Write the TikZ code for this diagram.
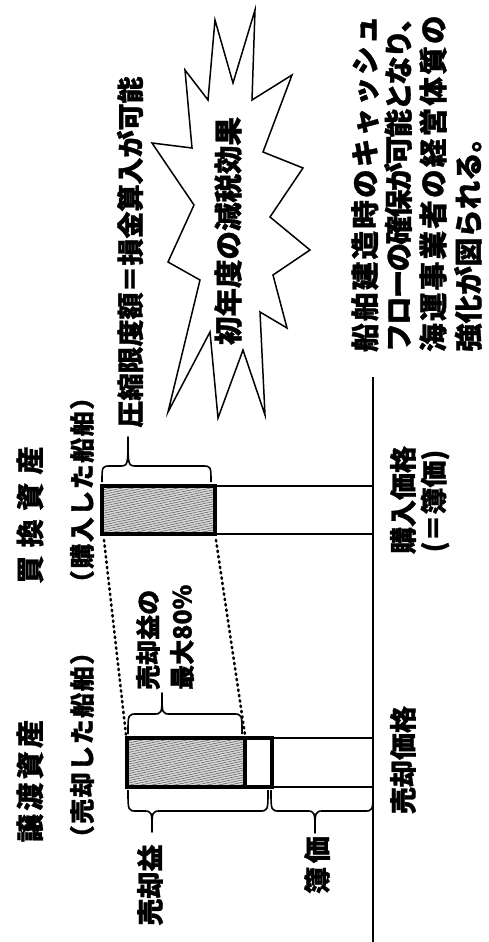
\documentclass[tikz,border=0pt]{standalone}
\usepackage{fontspec}
\setmainfont{Noto Sans CJK JP}[BoldFeatures={FakeBold=1.2}]
\usetikzlibrary{patterns.meta}
\newcommand{\spacedtxt}[2]{{\addfontfeature{LetterSpace=#1}#2}}
% horizontal brace: x1 x2 xtip ybase yflat ytip
\newcommand{\hbrc}[6]{%
  \draw[brc] (#1,#4) .. controls (#1,#5) .. ({#1+9},#5) -- ({#3-9},#5)
    .. controls (#3,#5) .. (#3,#6) .. controls (#3,#5) .. ({#3+9},#5)
    -- ({#2-9},#5) .. controls (#2,#5) .. (#2,#4);}
\begin{document}
\begin{tikzpicture}[x=1pt,y=-1pt,
  lbl/.style={rotate=90, inner sep=0pt, font=\fontsize{27}{32}\selectfont\bfseries},
  hdr/.style={lbl, font=\fontsize{28}{32}\selectfont\bfseries},
  sub/.style={lbl, font=\fontsize{25}{30}\selectfont\bfseries},
  blk/.style={lbl, anchor=west, font=\fontsize{28.5}{34}\selectfont\bfseries},
  brc/.style={line width=1.6pt, line join=round},
  barline/.style={line width=4.5pt, line join=miter},
  thinline/.style={line width=1.5pt},
  dotline/.style={line width=2.6pt, line cap=round, dash pattern=on 1.4pt off 4pt},
  hatch/.style={preaction={fill=gray!30}, pattern={Lines[angle=12,distance=2.3pt,line width=0.55pt]}, pattern color=gray!70!black},
  burst/.style={draw, fill=white, line width=1.5pt, line join=miter}]
\useasboundingbox (0,0) rectangle (489,942);
\fill[white] (0,0) rectangle (489,942);

% ground line
\coordinate (gtop) at (373,377);
\coordinate (gbot) at (373,942);
\draw[line width=2pt] (gtop) -- (gbot);

% left bar (transferred asset)
\coordinate (LTa) at (127,738); \coordinate (LTb) at (245,738); \coordinate (LTc) at (272,738);
\coordinate (LBa) at (127,787); \coordinate (LBb) at (245,787); \coordinate (LBc) at (272,787);
\coordinate (LTg) at (373,738); \coordinate (LBg) at (373,787);
\path[hatch] (LTa) rectangle (LBb);
\draw[barline] (LTa) rectangle (LBc);
\draw[barline] (LTb) -- (LBb);
\draw[thinline] (LTc) -- (LTg);
\draw[thinline] (LBc) -- (LBg);

% right bar (replacement asset)
\coordinate (RTa) at (102,486); \coordinate (RTc) at (215,486);
\coordinate (RBa) at (102,534); \coordinate (RBc) at (215,534);
\coordinate (RTg) at (373,486); \coordinate (RBg) at (373,534);
\path[hatch] (RTa) rectangle (RBc);
\draw[barline] (RTa) rectangle (RBc);
\draw[thinline] (RTc) -- (RTg);
\draw[thinline] (RBc) -- (RBg);

% dotted projection lines
\coordinate (dA1) at (104,540); \coordinate (dA2) at (126,735);
\coordinate (dB1) at (216,540); \coordinate (dB2) at (245,735);
\draw[dotline] (dA1) -- (dA2);
\draw[dotline] (dB1) -- (dB2);

% braces
\hbrc{128}{242}{162}{734}{714}{693}
\hbrc{128}{268}{152}{790}{811}{832}
\hbrc{271}{373}{315}{790}{811}{833}
\hbrc{102}{211}{128}{482}{466}{437}

% starburst
\draw[burst] (215,20) -- (233,83) -- (255,10) -- (252,100) -- (292,75) -- (263,152)
  -- (303,168) -- (270,217) -- (310,250) -- (273,275) -- (287,328) -- (260,312)
  -- (265,415) -- (243,350) -- (218,418) -- (210,332) -- (168,412) -- (200,280)
  -- (168,262) -- (194,205) -- (152,143) -- (192,148) -- (185,70) -- (208,100) -- cycle;

% texts
\node[hdr] (hdrL) at (30,781) {\spacedtxt{12}{譲渡資産}};
\node[sub] (subL) at (82,745) {\spacedtxt{6}{（売却した船舶）}};
\node[hdr] (hdrR) at (30,515) {\spacedtxt{30}{買換資産}};
\node[sub] (subR) at (82,490) {\spacedtxt{6}{（購入した船舶）}};
\node[lbl] (comp) at (130,252) {圧縮限度額＝損金算入が可能};
\node[lbl, font=\fontsize{28.5}{32}\selectfont\bfseries] (eff) at (228,231) {初年度の減税効果};
\node[sub, anchor=west] (gain1) at (148,690) {売却益の};
\node[sub, anchor=west] (gain2) at (182,690) {最大80\%};
\node[lbl] (gain) at (150,885) {売却益};
\node[lbl] (book) at (317,865) {\spacedtxt{14}{簿価}};
\node[lbl] (sellp) at (403,760) {売却価格};
\node[lbl] (buyp) at (403,500) {購入価格};
\node[lbl] (buyb) at (435,501) {(＝簿価)};
\node[blk] (t1) at (365,352) {\spacedtxt{8}{船舶建造時のキャッシュ}};
\node[blk] (t2) at (398,352) {\spacedtxt{-6}{フローの確保が可能となり、}};
\node[blk] (t3) at (433,352) {\spacedtxt{8}{海運事業者の経営体質の}};
\node[blk] (t4) at (468,352) {強化が図られる。};
\end{tikzpicture}
\end{document}
